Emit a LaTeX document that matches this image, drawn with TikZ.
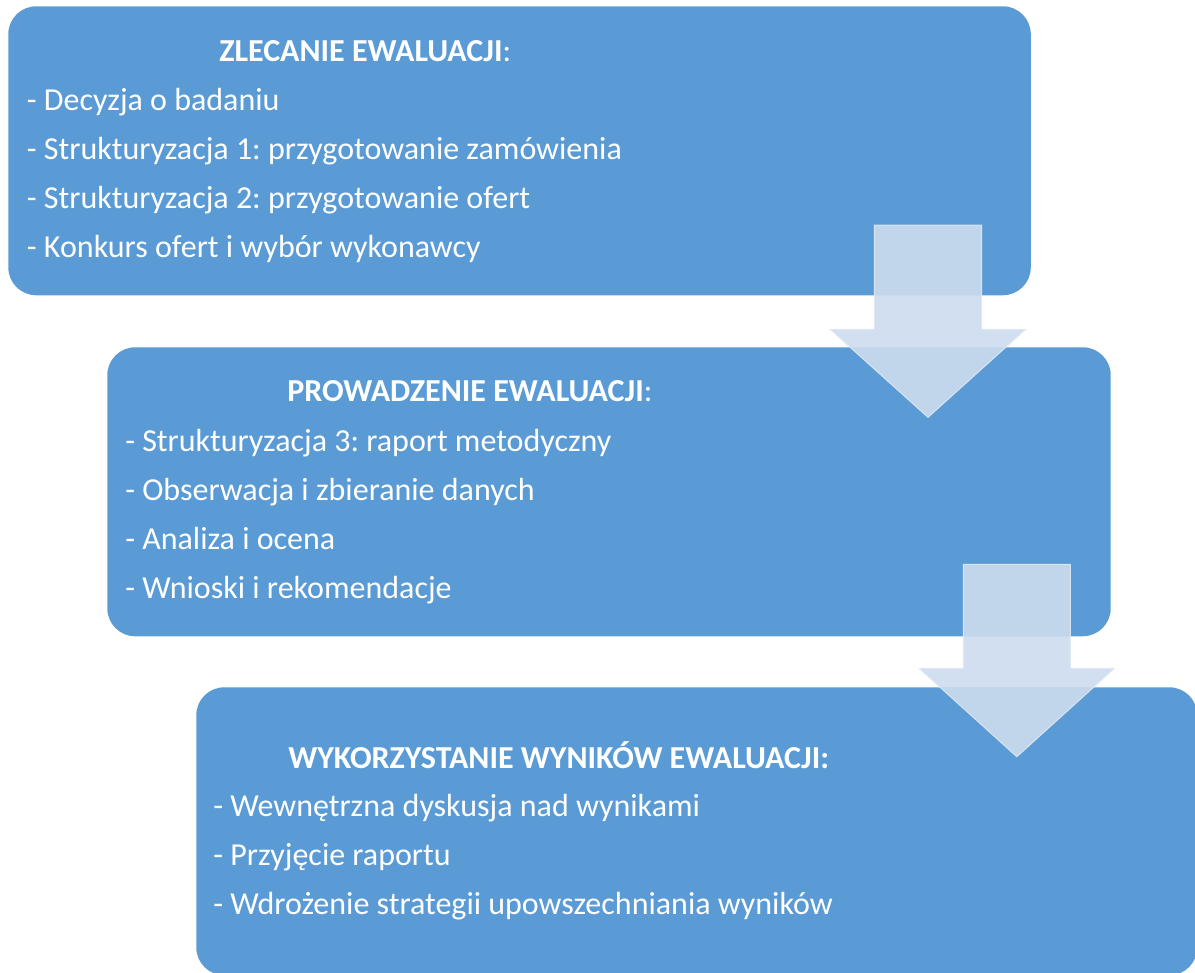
\documentclass[tikz,border=0pt]{standalone}
\usepackage{fontspec}
\setmainfont{Carlito}
\frenchspacing
\definecolor{boxblue}{RGB}{91,155,213}
\definecolor{arrowfill}{RGB}{205,220,238}
\definecolor{arrowline}{RGB}{222,232,244}
\begin{document}
\begin{tikzpicture}[x=0.75pt,y=-0.75pt,
  stagebox/.style={draw=none,fill=boxblue,rounded corners=21pt,anchor=north west,inner sep=0pt},
  txt/.style={anchor=base west,inner sep=0pt,text=white,font=\fontsize{24}{28}\selectfont},
  ttl/.style={txt,font=\fontsize{24}{28}\selectfont\bfseries},
  downarrow/.style={fill=arrowfill,fill opacity=0.9,draw=arrowline,draw opacity=0.9,line width=0.75pt,line join=miter}]
\useasboundingbox (0,0) rectangle (1195,972);
\clip (0,0) rectangle (1195,972);
% boxes
\node[stagebox,minimum width=766.9pt,minimum height=216.75pt] (b1) at (8,6) {};
\node[stagebox,minimum width=752.6pt,minimum height=216.75pt] (b2) at (107,347) {};
\node[stagebox,minimum width=750.75pt,minimum height=216pt] (b3) at (196,687) {};
% box 1 text
\node[ttl] (t1) at (219,61.7) {ZLECANIE EWALUACJI\textmd{:}};
\node[txt] (l11) at (26.7,110.7) {- Decyzja o badaniu};
\node[txt] (l12) at (26.7,159.4) {- Strukturyzacja 1: przygotowanie zamówienia};
\node[txt] (l13) at (26.7,208.2) {- Strukturyzacja 2: przygotowanie ofert};
\node[txt] (l14) at (26.7,257.0) {- Konkurs ofert i wybór wykonawcy};
% box 2 text
\node[ttl] (t2) at (287,401.7) {PROWADZENIE EWALUACJI\textmd{:}};
\node[txt] (l21) at (125,451.7) {- Strukturyzacja 3: raport metodyczny};
\node[txt] (l22) at (125,500.5) {- Obserwacja i zbieranie danych};
\node[txt] (l23) at (125,549.3) {- Analiza i ocena};
\node[txt] (l24) at (125,598.0) {- Wnioski i rekomendacje};
% box 3 text
\node[ttl] (t3) at (288,768.3) {WYKORZYSTANIE WYNIKÓW EWALUACJI:};
\node[txt] (l31) at (213,816.7) {- Wewnętrzna dyskusja nad wynikami};
\node[txt] (l32) at (213,865.5) {- Przyjęcie raportu};
\node[txt] (l33) at (213,914.3) {- Wdrożenie strategii upowszechniania wyników};
% arrows
\draw[downarrow] (874.3,225) -- (981.7,225) -- (981.7,329.3) -- (1025.7,329.3) -- (928,417.3) -- (830.2,329.3) -- (874.3,329.3) -- cycle;
\draw[downarrow] (963.3,564.3) -- (1070.3,564.3) -- (1070.3,668.3) -- (1114.5,668.3) -- (1016.8,756.7) -- (919.1,668.3) -- (963.3,668.3) -- cycle;
\end{tikzpicture}
\end{document}
